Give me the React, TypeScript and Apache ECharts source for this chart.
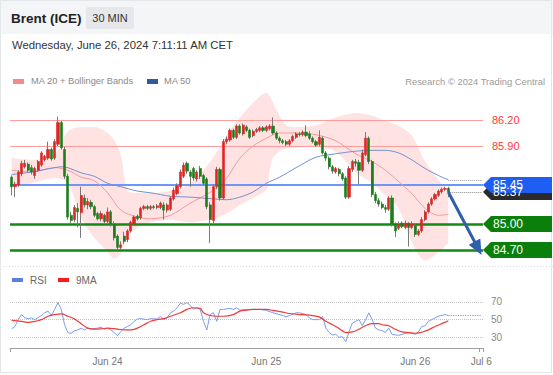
import { useEffect, useRef } from "react";
import * as echarts from "echarts";

// ---------- data ----------
const SLOTS = 143; // time slots on the x axis (candles + empty space on the right)

const opens = [
  85.54, 85.43, 85.45, 85.58, 85.66, 85.69, 85.65, 85.56, 85.62, 85.68,
  85.74, 85.76, 85.86, 85.76, 85.92, 86.17, 85.86, 85.55, 85.10, 85.05,
  85.18, 85.13, 85.30, 85.22, 85.25, 85.20, 85.12, 85.06, 85.10, 85.03,
  85.14, 85.00, 84.86, 84.73, 84.86, 84.82, 84.92, 85.00, 85.09, 85.07,
  85.18, 85.20, 85.18, 85.20, 85.19, 85.19, 85.22, 85.16, 85.17, 85.29,
  85.35, 85.43, 85.55, 85.70, 85.60, 85.64, 85.52, 85.64, 85.56, 85.52,
  85.22, 85.04, 85.43, 85.63, 85.30, 85.95, 85.97, 86.08, 86.00, 86.13,
  86.04, 86.12, 86.08, 86.02, 86.07, 86.08, 86.11, 86.08, 86.10, 86.13,
  86.05, 85.99, 85.96, 85.95, 85.92, 85.96, 86.00, 86.04, 86.03, 86.06,
  86.04, 85.99, 85.95, 85.92, 85.99, 85.82, 85.76, 85.66, 85.60, 85.63,
  85.58, 85.53, 85.31, 85.63, 85.72, 85.71, 85.62, 85.80, 85.99, 85.72,
  85.34, 85.27, 85.23, 85.19, 85.17, 85.30, 85.00, 84.95, 85.01, 84.96,
  85.01, 84.96, 84.98, 84.88, 84.92, 85.05, 85.14, 85.23, 85.29, 85.33,
  85.37, 85.40, 85.41,
];
const closes = [
  85.43, 85.46, 85.60, 85.70, 85.70, 85.62, 85.60, 85.64, 85.72, 85.82,
  85.78, 85.86, 85.75, 85.95, 86.17, 85.88, 85.55, 85.08, 85.04, 85.19,
  85.14, 85.33, 85.22, 85.26, 85.20, 85.10, 85.06, 85.12, 85.03, 85.14,
  85.00, 84.84, 84.73, 84.76, 84.80, 84.92, 85.02, 85.08, 85.06, 85.18,
  85.20, 85.18, 85.20, 85.19, 85.21, 85.24, 85.16, 85.22, 85.30, 85.39,
  85.44, 85.60, 85.68, 85.61, 85.55, 85.53, 85.60, 85.55, 85.47, 85.20,
  85.05, 85.43, 85.63, 85.30, 85.95, 85.98, 86.08, 86.00, 86.13, 86.05,
  86.14, 86.08, 86.00, 86.07, 86.09, 86.11, 86.08, 86.12, 86.13, 86.05,
  85.99, 85.96, 85.94, 85.92, 85.96, 86.01, 86.04, 86.03, 86.06, 86.02,
  85.99, 85.95, 85.91, 86.00, 85.82, 85.76, 85.66, 85.61, 85.64, 85.58,
  85.52, 85.31, 85.64, 85.72, 85.70, 85.62, 85.82, 85.99, 85.72, 85.34,
  85.27, 85.23, 85.19, 85.17, 85.30, 85.00, 84.92, 85.00, 84.97, 85.01,
  84.96, 85.00, 84.88, 84.92, 85.05, 85.14, 85.23, 85.29, 85.34, 85.38,
  85.40, 85.41, 85.37,
];
const highs = [
  85.56, 85.49, 85.62, 85.73, 85.74, 85.71, 85.68, 85.66, 85.74, 85.84,
  85.80, 85.95, 85.88, 85.98, 86.24, 86.19, 85.89, 85.58, 85.14, 85.22,
  85.24, 85.43, 85.34, 85.30, 85.28, 85.22, 85.14, 85.15, 85.12, 85.19,
  85.16, 85.03, 84.88, 84.80, 84.91, 84.94, 85.04, 85.10, 85.11, 85.20,
  85.22, 85.22, 85.22, 85.22, 85.23, 85.26, 85.25, 85.24, 85.32, 85.42,
  85.47, 85.63, 85.71, 85.72, 85.62, 85.66, 85.62, 85.67, 85.58, 85.54,
  85.25, 85.46, 85.66, 85.65, 85.98, 86.01, 86.10, 86.10, 86.15, 86.15,
  86.16, 86.14, 86.10, 86.09, 86.11, 86.13, 86.13, 86.14, 86.15, 86.23,
  86.07, 86.01, 85.98, 85.97, 85.98, 86.03, 86.06, 86.06, 86.08, 86.14,
  86.07, 86.01, 85.97, 86.08, 86.01, 85.84, 85.78, 85.68, 85.66, 85.65,
  85.60, 85.55, 85.67, 85.74, 85.75, 85.74, 85.86, 86.06, 86.01, 85.74,
  85.37, 85.30, 85.26, 85.22, 85.32, 85.33, 85.02, 85.03, 85.03, 85.04,
  85.02, 85.03, 85.00, 84.94, 85.08, 85.16, 85.25, 85.31, 85.36, 85.40,
  85.42, 85.43, 85.43,
];
const lows = [
  85.33, 85.31, 85.43, 85.55, 85.64, 85.60, 85.57, 85.52, 85.60, 85.66,
  85.72, 85.74, 85.73, 85.74, 85.90, 85.86, 85.52, 85.05, 85.00, 85.02,
  84.96, 84.84, 85.19, 85.17, 85.17, 85.08, 85.04, 85.03, 85.00, 85.01,
  84.97, 84.81, 84.70, 84.71, 84.77, 84.79, 84.90, 84.98, 85.04, 85.05,
  85.16, 85.16, 85.16, 85.17, 85.17, 85.17, 85.05, 85.13, 85.15, 85.27,
  85.33, 85.41, 85.53, 85.58, 85.43, 85.50, 85.49, 85.52, 85.44, 85.17,
  84.78, 85.00, 85.40, 85.27, 85.28, 85.92, 85.95, 85.98, 85.98, 86.03,
  86.02, 86.06, 85.98, 86.00, 86.05, 86.06, 86.06, 86.06, 86.08, 86.03,
  85.97, 85.93, 85.92, 85.90, 85.90, 85.94, 85.98, 86.01, 86.01, 86.00,
  85.97, 85.93, 85.89, 85.90, 85.80, 85.73, 85.63, 85.58, 85.58, 85.55,
  85.50, 85.29, 85.29, 85.60, 85.66, 85.46, 85.60, 85.78, 85.69, 85.31,
  85.24, 85.20, 85.17, 85.13, 85.15, 84.97, 84.85, 84.93, 84.95, 84.94,
  84.74, 84.94, 84.85, 84.86, 84.90, 85.03, 85.12, 85.21, 85.27, 85.31,
  85.35, 85.38, 85.31,
];

// Bollinger band (MA 20 +/- bands), read at a few slots
const bandIdx = [0, 6, 13, 17, 21, 25, 29, 31, 33, 35, 38, 42, 48, 54, 61, 65, 69, 73, 77, 78, 79, 81, 83, 86, 92, 98, 104, 109, 113, 117, 121, 125, 129, 132];
const bandUpper = [85.76, 85.74, 85.80, 86.07, 86.12, 86.12, 86.05, 85.97, 85.80, 85.39, 85.36, 85.36, 85.38, 85.47, 85.77, 86.03, 86.23, 86.40, 86.51, 86.48, 86.40, 86.25, 86.14, 86.12, 86.14, 86.23, 86.28, 86.25, 86.19, 86.13, 86.02, 85.72, 85.51, 85.36];
const bandLower = [85.43, 85.47, 85.53, 85.47, 85.07, 84.84, 84.68, 84.60, 84.66, 84.86, 84.95, 85.02, 85.05, 85.02, 85.06, 85.12, 85.22, 85.30, 85.40, 85.62, 85.76, 85.84, 85.87, 85.88, 85.89, 85.83, 85.60, 85.47, 85.33, 85.18, 84.79, 84.58, 84.67, 84.78];

const ma20Idx = [0, 6, 13, 17, 21, 25, 29, 33, 38, 42, 48, 54, 61, 65, 69, 73, 77, 81, 86, 92, 98, 104, 109, 113, 117, 121, 125, 129, 132];
const ma20 = [85.62, 85.60, 85.65, 85.62, 85.54, 85.50, 85.36, 85.16, 85.08, 85.06, 85.10, 85.24, 85.39, 85.53, 85.76, 85.90, 85.99, 86.05, 86.05, 86.03, 85.96, 85.81, 85.72, 85.62, 85.49, 85.35, 85.18, 85.10, 85.11];

const ma50Idx = [0, 6, 13, 15, 17, 21, 25, 29, 33, 38, 42, 48, 54, 61, 65, 69, 73, 77, 81, 86, 92, 98, 104, 109, 113, 117, 121, 125, 129, 132];
const ma50 = [85.57, 85.60, 85.65, 85.66, 85.65, 85.59, 85.55, 85.47, 85.43, 85.38, 85.36, 85.32, 85.31, 85.29, 85.28, 85.31, 85.37, 85.47, 85.54, 85.65, 85.77, 85.81, 85.84, 85.85, 85.85, 85.82, 85.74, 85.64, 85.56, 85.51];

// RSI panel
const rsiIdx = [0, 1, 2, 3, 4, 5, 6, 7, 9, 10, 11, 12, 13, 14, 15, 16, 17, 18, 19, 20, 21, 22, 23, 24, 26, 27, 28, 29, 30, 31, 32, 33, 34, 35, 36, 37, 38, 39, 41, 42, 44, 45, 46, 47, 48, 49, 50, 51, 52, 53, 54, 55, 56, 57, 58, 59, 60, 61, 62, 63, 64, 66, 67, 68, 69, 71, 73, 75, 77, 79, 82, 83, 84, 86, 87, 89, 90, 91, 93, 94, 95, 96, 97, 98, 99, 100, 101, 102, 103, 104, 105, 106, 107, 108, 109, 110, 111, 112, 113, 114, 115, 116, 117, 118, 120, 121, 122, 123, 124, 125, 126, 127, 129, 131, 132];
const rsi = [39.6, 42.3, 50, 55.7, 51.9, 51.1, 51.9, 50, 54.6, 57.7, 59.6, 54.6, 61.5, 69.2, 61.5, 44.2, 35.4, 34.6, 37.3, 38.4, 40.4, 38.4, 40.4, 39.6, 40.4, 41.5, 39.2, 40.4, 38.4, 35.4, 31.9, 36.5, 40.4, 42.3, 44.2, 48.1, 50.7, 51.1, 50, 51.1, 50.7, 53.8, 50, 51.9, 57.7, 59.6, 63.4, 68.4, 67.3, 69.2, 66.1, 61.5, 63.4, 61.5, 48.1, 38.4, 55.7, 57.7, 48.1, 61.5, 61.5, 62.7, 61.5, 63.4, 60.7, 61.5, 61.5, 61.5, 60.4, 57.7, 54.6, 53.1, 54.6, 57.7, 57.7, 55.7, 51.9, 50, 50, 53.8, 40.4, 35.4, 32.7, 33.4, 30, 30.8, 25, 36.5, 46.1, 48.1, 50, 43.1, 50, 57.7, 50, 40.4, 38.4, 37.7, 35.4, 40.4, 33.4, 32.7, 32.3, 33.4, 35.4, 34.6, 33.4, 36.5, 42.3, 43.1, 48.1, 50, 53.8, 55.7, 54.6];
const rsiMaIdx = [0, 3, 5, 7, 9, 11, 13, 15, 17, 19, 21, 23, 25, 27, 29, 32, 34, 36, 38, 40, 42, 44, 46, 48, 51, 53, 55, 57, 58, 60, 62, 64, 67, 69, 71, 73, 75, 77, 79, 82, 84, 87, 89, 91, 93, 95, 98, 100, 101, 103, 105, 107, 109, 111, 112, 114, 116, 118, 120, 122, 124, 126, 128, 131, 132];
const rsiMa = [49.2, 48.1, 46.9, 48.1, 50, 53.8, 55.7, 56.5, 53.8, 50.7, 45.4, 40.4, 39.2, 39.6, 40.4, 39.2, 38.4, 38.4, 40.4, 44.2, 48.1, 50, 51.1, 53.8, 57.7, 61.5, 63.4, 62.7, 57.7, 54.6, 53.8, 53.8, 55.7, 59.6, 60.7, 61.5, 61.5, 61.5, 60.4, 58.4, 56.9, 55.7, 55.4, 54.6, 53.1, 48.1, 42.3, 37.3, 35.4, 36.1, 39.2, 43.1, 45.4, 45.4, 44.2, 43.1, 39.2, 36.1, 35.4, 34.6, 35.8, 38.4, 42.3, 46.9, 48.8];
const rsiLevels = [70, 50, 30];

// levels
const resistanceLevels = [86.2, 85.9];
const pivotLevel = 85.45;
const supportLevels = [85.0, 84.7];
const lastPrice = 85.37;
const arrowTarget = 84.72;

// x tick labels
const tickIdx = [29, 77, 122, 142];
const tickText = ["Jun 24", "Jun 25", "Jun 26", "Jul 6"];

const FONT = "'Liberation Sans', Arial, Helvetica, sans-serif";

function pairs(idx: number[], vals: number[]) {
  return idx.map((x, k) => [x, vals[k]]);
}

export default function App() {
  const ref = useRef<HTMLDivElement>(null);

  useEffect(() => {
    const el = ref.current!;
    const chart = echarts.init(el, null, { renderer: "svg" });
    const cats = Array.from({ length: SLOTS }, (_, i) => String(i));
    const labelAt: Record<number, string> = {};
    tickIdx.forEach((x, k) => (labelAt[x] = tickText[k]));
    const lastIdx = closes.length - 1;
    const ma50Last = ma50[ma50.length - 1];
    const rsiLast = rsi[rsi.length - 1];

    const wickData = opens.map((o, i) => [o, closes[i], lows[i], highs[i]]);
    const bodyData = opens.map((o, i) => [o, closes[i], Math.min(o, closes[i]), Math.max(o, closes[i])]);

    const option: any = {
      animation: false,
      backgroundColor: "#ffffff",
      textStyle: { fontFamily: FONT },
      grid: [
        { left: 10, top: 88, width: 473, height: 177 },
        { left: 10, top: 293, width: 473, height: 55 },
      ],
      xAxis: [
        { type: "category", gridIndex: 0, data: cats, show: false, boundaryGap: true },
        {
          type: "category",
          gridIndex: 1,
          data: cats,
          boundaryGap: true,
          axisLine: { lineStyle: { color: "#a0a0a0", width: 1 } },
          axisTick: {
            show: true,
            length: 4,
            interval: (i: number) => i === 0 || i === SLOTS - 1,
            lineStyle: { color: "#a0a0a0" },
          },
          axisLabel: {
            interval: 0,
            color: "#777777",
            fontSize: 10,
            margin: 8,
            fontFamily: FONT,
            formatter: (_v: string, i: number) => labelAt[i] ?? "",
          },
          splitLine: { show: false },
        },
      ],
      yAxis: [
        { type: "value", gridIndex: 0, min: 84.527, max: 86.569, show: false, splitLine: { show: false } },
        { type: "value", gridIndex: 1, min: 18, max: 80, show: false, splitLine: { show: false } },
      ],
      series: [
        {
          name: "bandLower",
          type: "line",
          data: pairs(bandIdx, bandLower),
          stack: "bb",
          symbol: "none",
          smooth: 0.3,
          lineStyle: { width: 0, opacity: 0 },
          silent: true,
          z: 1,
        },
        {
          name: "bandFill",
          type: "line",
          data: bandIdx.map((x, k) => [x, +(bandUpper[k] - bandLower[k]).toFixed(2)]),
          stack: "bb",
          symbol: "none",
          smooth: 0.3,
          lineStyle: { width: 0, opacity: 0 },
          areaStyle: { color: "#ffe3e3", opacity: 1 },
          silent: true,
          z: 1,
        },
        {
          name: "MA 20",
          type: "line",
          data: pairs(ma20Idx, ma20),
          symbol: "none",
          smooth: 0.3,
          lineStyle: { color: "#f39a9a", width: 1 },
          silent: true,
          z: 3,
          markLine: {
            silent: true,
            symbol: ["none", "none"],
            z: 2,
            data: [
              ...resistanceLevels.map((v) => ({
                yAxis: v,
                lineStyle: { color: "#ff9c9c", width: 1, type: "solid" },
                label: {
                  show: true,
                  position: "end",
                  formatter: v.toFixed(2),
                  color: "#ff3b3b",
                  fontSize: 11,
                  fontFamily: FONT,
                  distance: 9,
                },
              })),
              {
                yAxis: pivotLevel,
                lineStyle: { color: "#6d97f6", width: 2, type: "solid" },
                label: { show: false },
              },
              ...supportLevels.map((v) => ({
                yAxis: v,
                lineStyle: { color: "#138a13", width: 2.5, type: "solid" },
                label: { show: false },
              })),
            ],
          },
        },
        {
          name: "MA 50",
          type: "line",
          data: pairs(ma50Idx, ma50),
          symbol: "none",
          smooth: 0.3,
          lineStyle: { color: "#7190cf", width: 1 },
          silent: true,
          z: 3,
          markLine: {
            silent: true,
            symbol: ["none", "none"],
            z: 10,
            label: { show: false },
            data: [
              [
                { coord: [lastIdx, ma50Last], lineStyle: { type: "dotted", color: "#9a9a9a", width: 1 } },
                { coord: [SLOTS - 1, ma50Last] },
              ],
              [
                { coord: [lastIdx, lastPrice], lineStyle: { type: "dotted", color: "#8a8a8a", width: 1 } },
                { coord: [SLOTS - 1, lastPrice] },
              ],
              [
                { coord: [lastIdx, lastPrice], lineStyle: { type: "solid", color: "#2f5fa8", width: 3 } },
                { coord: [SLOTS - 2, arrowTarget], symbol: "triangle", symbolSize: [13, 15] },
              ],
            ],
          },
        },
        {
          name: "wicks",
          type: "candlestick",
          data: wickData,
          barWidth: 1,
          silent: true,
          z: 4,
          itemStyle: {
            color: "#7a7a7a",
            color0: "#7a7a7a",
            borderColor: "#7a7a7a",
            borderColor0: "#7a7a7a",
            borderWidth: 1,
          },
        },
        {
          name: "bodies",
          type: "candlestick",
          data: bodyData,
          barWidth: 2.6,
          silent: true,
          z: 5,
          itemStyle: {
            color: "#e02525",
            color0: "#1d7d1d",
            borderColor: "#e02525",
            borderColor0: "#1d7d1d",
            borderWidth: 0.6,
          },
        },
        {
          name: "RSI",
          type: "line",
          xAxisIndex: 1,
          yAxisIndex: 1,
          data: pairs(rsiIdx, rsi),
          symbol: "none",
          lineStyle: { color: "#7a9cee", width: 1 },
          silent: true,
          z: 3,
          markLine: {
            silent: true,
            symbol: ["none", "none"],
            label: { show: false },
            data: [
              [
                { coord: [lastIdx, rsiLast], lineStyle: { type: "dotted", color: "#7a9cee", width: 1.2 } },
                { coord: [SLOTS - 1, rsiLast] },
              ],
            ],
          },
        },
        {
          name: "9MA",
          type: "line",
          xAxisIndex: 1,
          yAxisIndex: 1,
          data: pairs(rsiMaIdx, rsiMa),
          symbol: "none",
          smooth: 0.4,
          lineStyle: { color: "#f23a3a", width: 1.2 },
          silent: true,
          z: 4,
          markLine: {
            silent: true,
            symbol: ["none", "none"],
            z: 1,
            data: rsiLevels.map((v) => ({
              yAxis: v,
              lineStyle: { type: "dotted", color: "#c4c4c4", width: 1 },
              label: {
                show: true,
                position: "end",
                formatter: String(v),
                color: "#8a8a8a",
                fontSize: 10,
                fontFamily: FONT,
                distance: 8,
              },
            })),
          },
        },
      ],
    };

    chart.setOption(option);

    const py = (v: number) => chart.convertToPixel({ yAxisIndex: 0 } as any, v) as number;

    const tag = (v: number, fill: string, text: string) => {
      const y = py(v);
      return [
        {
          type: "polygon",
          z: 100,
          shape: {
            points: [
              [483, y],
              [491, y - 8],
              [552, y - 8],
              [552, y + 8],
              [491, y + 8],
            ],
          },
          style: { fill },
        },
        {
          type: "text",
          z: 101,
          x: 493,
          y,
          style: {
            text,
            fill: "#ffffff",
            font: `12px ${FONT}`,
            textAlign: "left",
            textVerticalAlign: "middle",
          },
        },
      ];
    };

    const t = (x: number, y: number, text: string, font: string, fill: string, align = "left") => ({
      type: "text",
      x,
      y,
      z: 50,
      style: { text, font, fill, textAlign: align, textVerticalAlign: "middle" },
    });

    const graphics: any[] = [
      { type: "rect", z: 0, shape: { x: 0, y: 0, width: 553, height: 34 }, style: { fill: "#f4f5f6" } },
      { type: "rect", z: 60, shape: { x: 0.5, y: 0.5, width: 551, height: 372 }, style: { fill: "none", stroke: "#e4e7ea", lineWidth: 1 } },
      t(11, 18, "Brent (ICE)", `bold 13.5px ${FONT}`, "#222222"),
      { type: "rect", z: 50, shape: { x: 86, y: 7, width: 48, height: 22, r: 2 }, style: { fill: "#e5e7ea" } },
      t(110, 18, "30 MIN", `11px ${FONT}`, "#333333", "center"),
      t(12, 45, "Wednesday, June 26, 2024 7:11:11 AM CET", `11.3px ${FONT}`, "#333333"),
      { type: "rect", z: 50, shape: { x: 13, y: 79, width: 11, height: 5 }, style: { fill: "#f48a8a" } },
      t(31, 81, "MA 20 + Bollinger Bands", `9.3px ${FONT}`, "#8a8a8a"),
      { type: "rect", z: 50, shape: { x: 147, y: 79, width: 11, height: 5 }, style: { fill: "#2d5aa0" } },
      t(164, 81, "MA 50", `9.3px ${FONT}`, "#8a8a8a"),
      t(545, 81, "Research © 2024 Trading Central", `9.4px ${FONT}`, "#9a9a9a", "right"),
      {
        type: "line",
        z: 50,
        shape: { x1: 0, y1: 266.5, x2: 553, y2: 266.5 },
        style: { stroke: "#dcdcdc", lineWidth: 1, lineDash: [1, 2] },
      },
      { type: "rect", z: 50, shape: { x: 12, y: 278, width: 11, height: 4 }, style: { fill: "#5b7fe0" } },
      t(30, 280, "RSI", `10px ${FONT}`, "#666666"),
      { type: "rect", z: 50, shape: { x: 58, y: 278, width: 11, height: 4 }, style: { fill: "#ff1a1a" } },
      t(76, 280, "9MA", `10px ${FONT}`, "#666666"),
      ...tag(lastPrice, "#2a2a2a", lastPrice.toFixed(2)),
      ...tag(pivotLevel, "#1f5ef2", pivotLevel.toFixed(2)),
      ...supportLevels.flatMap((v) => tag(v, "#0b7f0b", v.toFixed(2))),
    ];

    chart.setOption({ graphic: graphics });

    return () => chart.dispose();
  }, []);

  return (
    <div
      ref={ref}
      style={{ position: "absolute", left: 0, top: 0, width: 553, height: 375, background: "#ffffff" }}
    />
  );
}
